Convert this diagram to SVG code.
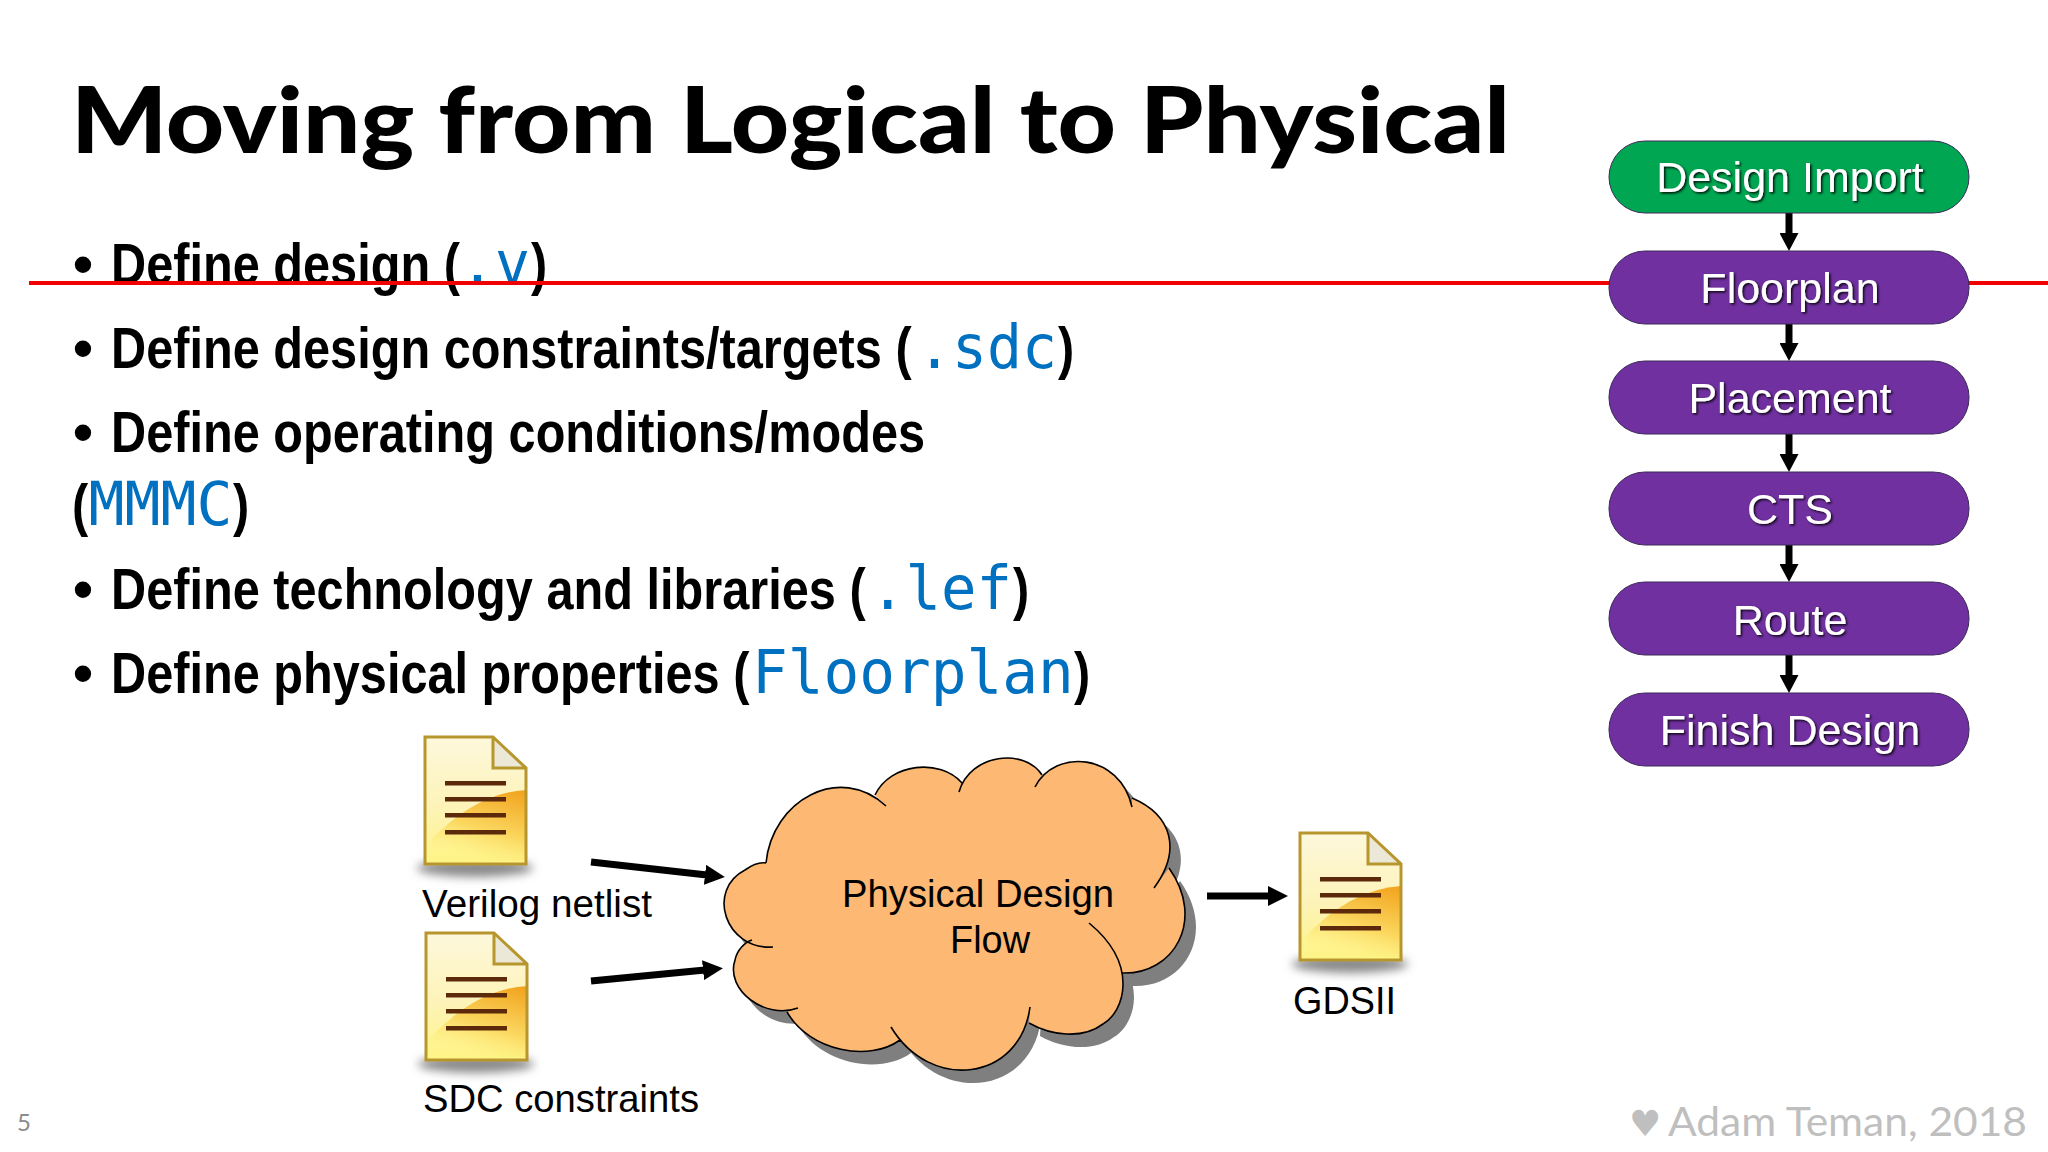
<svg xmlns="http://www.w3.org/2000/svg" width="2048" height="1152" viewBox="0 0 2048 1152">
<style>
.title{font:900 92px Lato,"Liberation Sans",sans-serif;fill:#000}
.b{font:700 57px "Liberation Sans",Arial,sans-serif;fill:#000}
.m{font:400 60px "DejaVu Sans Mono",monospace;fill:#0070c0}
.l{font:400 39px "Liberation Sans",Arial,sans-serif;fill:#000}
.p{font:400 43px "Liberation Sans",Arial,sans-serif;fill:#fff;text-anchor:middle;filter:url(#ts)}
.f{font:400 40px Lato,"Liberation Sans",sans-serif;fill:#bfbfbf}
.pill{stroke:#3c2a5a;stroke-width:1}
.conn{stroke:#000;stroke-width:7;fill:none;marker-end:url(#ah)}
.conn2{stroke:#000;stroke-width:7;fill:none;marker-end:url(#ah2)}
.ln{fill:#5c2a0a}
</style>
<defs>
<filter id="ts" x="-10%" y="-20%" width="120%" height="140%"><feDropShadow dx="1.5" dy="1.5" stdDeviation="0.8" flood-color="#000" flood-opacity="0.9"/></filter>
<filter id="bl" x="-20%" y="-100%" width="140%" height="300%"><feGaussianBlur stdDeviation="5"/></filter>
<marker id="ah" viewBox="0 0 20 20" refX="2" refY="10" markerWidth="20" markerHeight="20" markerUnits="userSpaceOnUse" orient="auto"><path d="M0,0L20,10L0,20z"/></marker>
<marker id="ah2" viewBox="0 0 18 19" refX="2" refY="9.5" markerWidth="18" markerHeight="19" markerUnits="userSpaceOnUse" orient="auto"><path d="M0,0L18,9.5L0,19z"/></marker>
<linearGradient id="pg" x1="0" y1="0" x2="0" y2="1"><stop offset="0" stop-color="#fdf8dc"/><stop offset="0.55" stop-color="#fdf3b8"/><stop offset="1" stop-color="#fff486"/></linearGradient>
<linearGradient id="sw" x1="0.9" y1="0" x2="0.5" y2="1"><stop offset="0" stop-color="#f2a41f"/><stop offset="0.6" stop-color="#fbd860"/><stop offset="1" stop-color="#fff486" stop-opacity="0.3"/></linearGradient>
<g id="doc">
<ellipse cx="50" cy="131" rx="58" ry="9" fill="#8a8a8a" filter="url(#bl)"/>
<path d="M0,0H68L101,31V127H0z" fill="url(#pg)"/>
<path d="M101,53Q50,56 3,106V124H101z" fill="url(#sw)"/>
<path d="M68,0V31H101z" fill="#ece8d8"/>
<path d="M0,0H68L101,31V127H0z M68,0V31H101" fill="none" stroke="#b8962e" stroke-width="3"/>
<rect class="ln" x="20" y="44" width="61" height="4.5"/>
<rect class="ln" x="20" y="60" width="61" height="4.5"/>
<rect class="ln" x="20" y="76" width="61" height="4.5"/>
<rect class="ln" x="20" y="93" width="61" height="4.5"/>
</g>
<path id="cf" d="M766,863C772,800 840,763 886,806L875,795C890,763 940,758 962,783L959,792C970,753 1025,748 1042,775L1035,787C1055,748 1120,753 1132,807L1132,798C1172,815 1182,850 1154,888L1169,868C1206,920 1174,975 1122,973L1089,923C1140,965 1124,1012 1103,1024C1082,1040 1050,1035 1029,1023L1030,1007C1020,1082 930,1092 891,1027L900,1040C870,1062 810,1052 787,1012L798,1008C765,1020 725,990 735,960C737,950 745,942 752,940L773,947C725,950 706,890 745,870C752,865 760,862 766,863z"/>
<path id="cs" d="M766,863C772,800 840,763 886,806M875,795C890,763 940,758 962,783M959,792C970,753 1025,748 1042,775M1035,787C1055,748 1120,753 1132,807M1132,798C1172,815 1182,850 1154,888M1169,868C1206,920 1174,975 1122,973M1089,923C1140,965 1124,1012 1103,1024C1082,1040 1050,1035 1029,1023M1030,1007C1020,1082 930,1092 891,1027M900,1040C870,1062 810,1052 787,1012M798,1008C765,1020 725,990 735,960C737,950 745,942 752,940M773,947C725,950 706,890 745,870C752,865 760,862 766,863"/>
</defs>
<rect width="2048" height="1152" fill="#fff"/>
<text id="title" class="title" x="71" y="153" textLength="1439" lengthAdjust="spacingAndGlyphs">Moving from Logical to Physical</text>
<g id="bullets">
<text class="b" x="73" y="283.5">•</text>
<text class="b" transform="translate(111 283.5) scale(.854 1)">Define design (</text>
<text class="m" transform="translate(460 283.5) scale(.97 1)">.v</text>
<text class="b" transform="translate(531 283.5) scale(.854 1)">)</text>
<text class="b" x="73" y="368">•</text>
<text class="b" transform="translate(111 368) scale(.854 1)">Define design constraints/targets (</text>
<text class="m" transform="translate(917 368) scale(.97 1)">.sdc</text>
<text class="b" transform="translate(1058 368) scale(.854 1)">)</text>
<text class="b" x="73" y="451.5">•</text>
<text class="b" transform="translate(111 451.5) scale(.854 1)">Define operating conditions/modes</text>
<text class="b" transform="translate(72 524.5) scale(.854 1)">(</text>
<text class="m" transform="translate(88.5 524.5) scale(.997 1)">MMMC</text>
<text class="b" transform="translate(233 524.5) scale(.854 1)">)</text>
<text class="b" x="73" y="608.5">•</text>
<text class="b" transform="translate(111 608.5) scale(.854 1)">Define technology and libraries (</text>
<text class="m" transform="translate(870 608.5) scale(.983 1)">.lef</text>
<text class="b" transform="translate(1013 608.5) scale(.854 1)">)</text>
<text class="b" x="73" y="692.5">•</text>
<text class="b" transform="translate(111 692.5) scale(.854 1)">Define physical properties (</text>
<text class="m" transform="translate(752 692.5) scale(.99 1)">Floorplan</text>
<text class="b" transform="translate(1074 692.5) scale(.854 1)">)</text>
</g>
<rect id="redline" x="29" y="281" width="2019" height="4" fill="#f00000"/>
<g id="connectors">
<path class="conn2" d="M1789,213V235"/>
<path class="conn2" d="M1789,324V345"/>
<path class="conn2" d="M1789,434V456"/>
<path class="conn2" d="M1789,545V566"/>
<path class="conn2" d="M1789,655V677"/>
<path class="conn" d="M591,862L707,875"/>
<path class="conn" d="M591,981L705,970"/>
<path class="conn" d="M1207,896H1270"/>
</g>
<g id="n-import"><rect class="pill" x="1609" y="141" width="360" height="72" rx="36" fill="#00a651"/><text class="p" x="1790" y="192">Design Import</text></g>
<g id="n-floorplan"><rect class="pill" x="1609" y="251" width="360" height="73" rx="36" fill="#7030a0"/><text class="p" x="1790" y="303">Floorplan</text></g>
<g id="n-placement"><rect class="pill" x="1609" y="361" width="360" height="73" rx="36" fill="#7030a0"/><text class="p" x="1790" y="413">Placement</text></g>
<g id="n-cts"><rect class="pill" x="1609" y="472" width="360" height="73" rx="36" fill="#7030a0"/><text class="p" x="1790" y="524">CTS</text></g>
<g id="n-route"><rect class="pill" x="1609" y="582" width="360" height="73" rx="36" fill="#7030a0"/><text class="p" x="1790" y="635">Route</text></g>
<g id="n-finish"><rect class="pill" x="1609" y="693" width="360" height="73" rx="36" fill="#7030a0"/><text class="p" x="1790" y="745">Finish Design</text></g>
<g id="n-verilog"><use href="#doc" x="425" y="737"/><text class="l" x="422" y="917" textLength="230" lengthAdjust="spacingAndGlyphs">Verilog netlist</text></g>
<g id="n-sdc"><use href="#doc" x="426" y="933"/><text class="l" x="423" y="1112" textLength="276" lengthAdjust="spacingAndGlyphs">SDC constraints</text></g>
<g id="n-cloud">
<use href="#cf" x="11" y="13" fill="#7f7f7f"/>
<use href="#cf" fill="#fdb874"/>
<use href="#cs" fill="none" stroke="#000" stroke-width="1.6"/>
<text class="l" x="842" y="907" textLength="272" lengthAdjust="spacingAndGlyphs">Physical Design</text>
<text class="l" x="950" y="953" textLength="80" lengthAdjust="spacingAndGlyphs">Flow</text>
</g>
<g id="n-gdsii"><use href="#doc" x="1300" y="833"/><text class="l" x="1293" y="1014" textLength="103" lengthAdjust="spacingAndGlyphs">GDSII</text></g>
<text id="pagenum" x="17" y="1131" font-family="Lato,'Liberation Sans',sans-serif" font-size="24" fill="#8c8c8c">5</text>
<text id="heart" x="1629" y="1136" font-family="'DejaVu Sans',sans-serif" font-size="36" fill="#bfbfbf">♥</text>
<text id="credit" class="f" x="1668" y="1136" textLength="359" lengthAdjust="spacingAndGlyphs">Adam Teman, 2018</text>
</svg>
